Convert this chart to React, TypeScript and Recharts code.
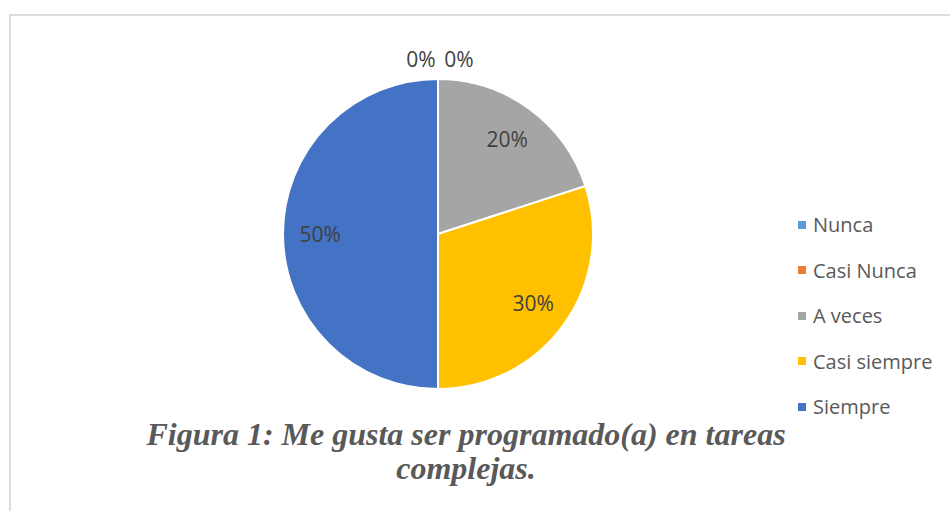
import { PieChart, Pie, Cell, Legend } from "recharts";

const categories = ["Nunca", "Casi Nunca", "A veces", "Casi siempre", "Siempre"];
const percents = [0, 0, 20, 30, 50];
const colors = ["#5B9BD5", "#ED7D31", "#A5A5A5", "#FFC000", "#4472C4"];

const caption = ["Figura 1: Me gusta ser programado(a) en tareas", "complejas."];

const data = categories.map((name, i) => ({ name, value: percents[i] }));

const RAD = Math.PI / 180;

function renderLabel(props: any) {
  const { cx, cy, midAngle, outerRadius, value, index } = props;
  let x: number;
  let y: number;
  if (value === 0) {
    // zero slices sit at the top: put their labels just outside the pie
    x = cx + (index === 0 ? -17 : 21);
    y = cy - outerRadius - 20;
  } else {
    const r = outerRadius * 0.76;
    x = cx + r * Math.cos(-midAngle * RAD);
    y = cy + r * Math.sin(-midAngle * RAD);
  }
  return (
    <text x={x} y={y} textAnchor="middle" dominantBaseline="central" fill="#404040" fontSize={21} fontFamily="'Open Sans', sans-serif">
      {`${value}%`}
    </text>
  );
}

function LegendList() {
  return (
    <div style={{ fontFamily: "'Open Sans', sans-serif", fontSize: 20, color: "#595959" }}>
      {categories.map((name, i) => (
        <div key={name} style={{ display: "flex", alignItems: "center", height: 45.5 }}>
          <span style={{ width: 8, height: 8, background: colors[i], marginRight: 7, display: "inline-block" }} />
          <span>{name}</span>
        </div>
      ))}
    </div>
  );
}

export default function App() {
  return (
    <div style={{ position: "absolute", left: 0, top: 0, width: 950, height: 511, background: "#fff", overflow: "hidden" }}>
      <div
        style={{
          position: "absolute",
          left: 9,
          top: 14,
          width: 960,
          height: 520,
          borderTop: "2px solid #dcdcdc",
          borderLeft: "2px solid #dcdcdc",
        }}
      />
      <PieChart
        width={950}
        height={511}
        margin={{ top: 0, right: 0, bottom: 0, left: 0 }}
        style={{ position: "absolute", left: 0, top: 0 }}
      >
        <Pie
          data={data}
          dataKey="value"
          nameKey="name"
          cx={438}
          cy={234}
          outerRadius={155}
          startAngle={90}
          endAngle={-270}
          stroke="#ffffff"
          strokeWidth={2}
          label={renderLabel}
          labelLine={false}
          isAnimationActive={false}
        >
          {data.map((d, i) => (
            <Cell key={d.name} fill={colors[i]} />
          ))}
        </Pie>
        <Legend
          layout="vertical"
          verticalAlign="middle"
          align="right"
          content={LegendList}
          wrapperStyle={{ left: 798, top: 202, width: 160 }}
        />
      </PieChart>
      <div
        style={{
          position: "absolute",
          left: 100,
          top: 417,
          width: 732,
          textAlign: "center",
          fontFamily: "'Liberation Serif', 'Times New Roman', serif",
          fontWeight: "bold",
          fontStyle: "italic",
          fontSize: 32,
          lineHeight: "34px",
          color: "#595959",
        }}
      >
        {caption.map((line) => (
          <div key={line}>{line}</div>
        ))}
      </div>
    </div>
  );
}
